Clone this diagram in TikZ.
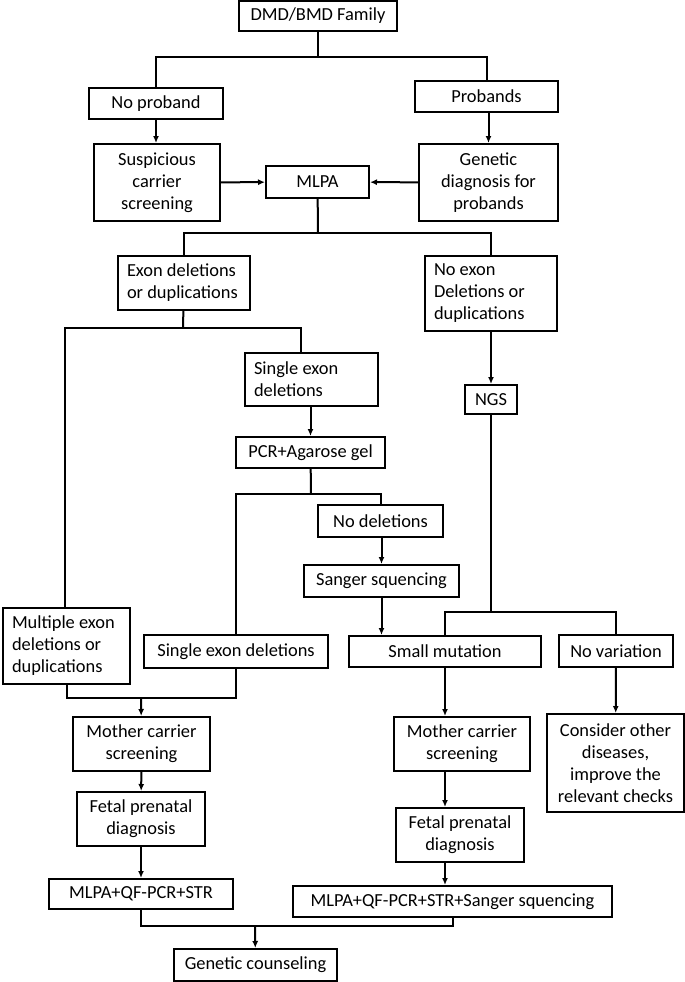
\documentclass[tikz,border=0pt]{standalone}
\usepackage{fontspec}
\setmainfont{Carlito}
\usetikzlibrary{arrows.meta}
\tikzset{
	box/.style={draw, inner sep=0pt, align=center, font=\fontsize{9.2}{11}\selectfont},
	lbox/.style={draw, inner xsep=4.5pt, inner ysep=0pt, align=flush left, font=\fontsize{9.2}{11}\selectfont}
}
\begin{document}
\begin{tikzpicture}[x=0.5pt, y=-0.5pt, line width=1pt, >={Latex[length=3.5pt,width=3pt]}]
	\useasboundingbox (0,0) rectangle (685,982);
	
	%the family and the first split
	\node[box, minimum width=79pt, minimum height=15pt] (family) at (318,16) {DMD/BMD Family};
	\node[box, minimum width=67pt, minimum height=15.5pt] (noproband) at (156,103.5) {No proband};
	\node[box, minimum width=71.5pt, minimum height=15.5pt] (probands) at (486.5,96.5) {Probands};
	\node[box, minimum width=63pt, minimum height=38.5pt] (suspicious) at (157,182.5) {Suspicious\\carrier\\screening};
	\node[box, minimum width=69.5pt, minimum height=38.5pt] (genetic) at (488.5,182.5) {Genetic\\diagnosis for\\probands};
	\node[box, minimum width=51.5pt, minimum height=16pt] (mlpa) at (317.5,182) {MLPA};
	
	%results of the mlpa
	\node[lbox, text width=57pt, minimum height=27pt] (exon) at (184,283) {Exon deletions\\or duplications};
	\node[lbox, text width=57pt, minimum height=37.5pt] (noexon) at (491,293.5) {No exon\\Deletions or\\duplications};
	\node[lbox, text width=57.5pt, minimum height=26.5pt] (single) at (311.5,379.5) {Single exon\\deletions};
	\node[box, minimum width=74.5pt, minimum height=15.5pt] (pcr) at (310.5,452.5) {PCR+Agarose gel};
	\node[box, minimum width=26pt, minimum height=14.5pt] (ngs) at (491,399.5) {NGS};
	\node[box, minimum width=62.5pt, minimum height=16pt] (nodel) at (380.5,521) {No deletions};
	\node[box, minimum width=77.5pt, minimum height=16pt] (sanger) at (381.5,581) {Sanger squencing};
	
	%the findings
	\node[lbox, text width=54.5pt, minimum height=38pt] (multiple) at (66.5,646) {Multiple exon\\deletions or\\duplications};
	\node[box, minimum width=92pt, minimum height=16.5pt] (singletwo) at (236,651.5) {Single exon deletions};
	\node[box, minimum width=96pt, minimum height=15.5pt] (small) at (445,651.5) {Small mutation};
	\node[box, minimum width=57pt, minimum height=16pt] (novar) at (616,651) {No variation};
	
	%prenatal steps
	\node[box, minimum width=68.5pt, minimum height=27pt] (motherl) at (141.5,744) {Mother carrier\\screening};
	\node[box, minimum width=64pt, minimum height=27pt] (fetall) at (141,819) {Fetal prenatal\\diagnosis};
	\node[box, minimum width=92pt, minimum height=15pt] (mlpal) at (141,894) {MLPA+QF-PCR+STR};
	\node[box, minimum width=68pt, minimum height=27pt] (motherr) at (462,744) {Mother carrier\\screening};
	\node[box, minimum width=64pt, minimum height=27pt] (fetalr) at (460,835) {Fetal prenatal\\diagnosis};
	\node[box, minimum width=159.5pt, minimum height=15.5pt] (mlpar) at (452.5,901.5) {MLPA+QF-PCR+STR+Sanger squencing};
	\node[box, minimum width=68.5pt, minimum height=49pt] (consider) at (615.5,763) {Consider other\\diseases,\\improve the\\relevant checks};
	\node[box, minimum width=81.5pt, minimum height=16pt] (counsel) at (255.5,965) {Genetic counseling};
	
	%split points
	\coordinate (split1) at (318,57);
	\coordinate (split2) at (318,233);
	\coordinate (split3) at (183,328);
	\coordinate (branchm) at (65,328);
	\coordinate (branchs) at (301,328);
	\coordinate (split4) at (311,494);
	\coordinate (split5) at (491,612);
	\coordinate (merge1) at (141,698);
	\coordinate (merge2) at (255,926);
	
	%upper connectors
	\draw (family) -- (split1);
	\draw (noproband) |- (split1) -| (probands);
	\draw[->] (noproband.south) -- (noproband.south |- suspicious.north);
	\draw[->] (genetic.north |- probands.south) -- (genetic.north);
	\draw[->] (suspicious) -- (mlpa);
	\draw[->] (genetic) -- (mlpa);
	\draw (mlpa) -- (split2);
	\draw (exon) |- (split2) -| (noexon);
	
	%middle connectors
	\draw (exon) -- (split3);
	\draw (multiple.north -| branchm) -- (branchm) -- (branchs) -- (single.north -| branchs);
	\draw[->] (pcr.north |- single.south) -- (pcr.north);
	\draw (pcr) -- (split4);
	\draw (singletwo) |- (split4) -| (nodel);
	\draw[->] (sanger.north |- nodel.south) -- (sanger.north);
	\draw[->] (sanger.south) -- (sanger.south |- small.north);
	\draw[->] (noexon) -- (ngs);
	\draw (ngs) -- (split5);
	\draw (small) |- (split5) -| (novar);
	
	%lower connectors
	\draw (multiple) |- (merge1) -| (singletwo);
	\draw[->] (merge1) -- (motherl);
	\draw[->] (motherl) -- (fetall);
	\draw[->] (fetall) -- (mlpal);
	\draw[->] (small.south) -- (small.south |- motherr.north);
	\draw[->] (small.south |- motherr.south) -- (small.south |- fetalr.north);
	\draw[->] (small.south |- fetalr.south) -- (small.south |- mlpar.north);
	\draw[->] (novar) -- (consider);
	\draw (mlpal) |- (merge2) -| (mlpar);
	\draw[->] (merge2) -- (counsel);
	
\end{tikzpicture}
\end{document}
